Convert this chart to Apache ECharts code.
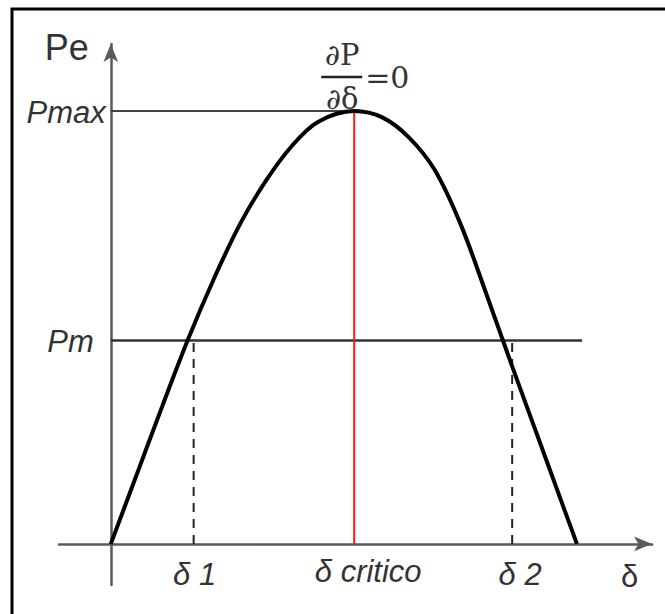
<!DOCTYPE html>
<html>
<head>
<meta charset="utf-8">
<script src="https://cdn.jsdelivr.net/npm/echarts@6/dist/echarts.min.js"></script>
<style>
  html, body { margin: 0; padding: 0; background: #fff; }
  #chart { width: 665px; height: 614px; }
</style>
</head>
<body>
<div id="chart"></div>
<script>
// Power-angle curve Pe(δ): δ in electrical degrees, Pe in per unit of Pmax
const deltaDeg = [0, 10, 20, 30, 40, 50, 60, 70, 80, 94, 105, 115, 125, 135, 145, 155, 165, 172, 180];
const pePu     = [0, 0.16, 0.32, 0.475, 0.615, 0.74, 0.84, 0.92, 0.975, 1, 0.985, 0.94, 0.865, 0.74, 0.578, 0.41, 0.246, 0.131, 0];

const pMax = 1;          // peak of the curve
const pM = 0.47;         // mechanical input power
const delta1 = 32;       // stable operating angle
const deltaCrit = 94;    // angle where dP/dδ = 0
const delta2 = 155;      // unstable operating angle
const pmLineEnd = 182;   // where the Pm line stops

const xTickLabels = ['δ 1', 'δ critico', 'δ 2'];
const yTickLabels = ['Pm', 'Pmax'];
const axisNames = ['δ', 'Pe'];

const chart = echarts.init(document.getElementById('chart'), null, { renderer: 'svg' });

const ink = '#333';
const axisColor = '#5a5a5a';

function segment(points, color, width, type) {
  return {
    type: 'line',
    data: points,
    symbol: 'none',
    silent: true,
    animation: false,
    lineStyle: { color: color, width: width, type: type || 'solid' },
    z: 3
  };
}

chart.setOption({
  animation: false,
  grid: { left: 59, right: 13, top: 44, bottom: 29 },
  xAxis: {
    type: 'value',
    min: -20, max: 209,
    axisLine: {
      onZero: true,
      symbol: ['none', 'arrow'],
      symbolSize: [11, 18],
      lineStyle: { color: axisColor, width: 2.5 }
    },
    axisTick: { show: false },
    axisLabel: { show: false },
    splitLine: { show: false }
  },
  yAxis: {
    type: 'value',
    min: -0.095, max: 1.155,
    axisLine: {
      onZero: true,
      symbol: ['none', 'arrow'],
      symbolSize: [11, 18],
      lineStyle: { color: axisColor, width: 2.5 }
    },
    axisTick: { show: false },
    axisLabel: { show: false },
    splitLine: { show: false }
  },
  series: [
    segment([[0, pMax], [deltaCrit, pMax]], '#444', 2),
    segment([[0, pM], [pmLineEnd, pM]], '#333', 2.5),
    segment([[delta1, 0], [delta1, pM]], '#222', 2, [9, 7]),
    segment([[delta2, 0], [delta2, pM]], '#222', 2, [9, 7]),
    segment([[deltaCrit, 0], [deltaCrit, pMax]], '#ff1a1a', 2),
    {
      type: 'line',
      data: deltaDeg.map((d, i) => [d, pePu[i]]),
      smooth: 0.35,
      symbol: 'none',
      lineStyle: { color: '#000', width: 4 },
      z: 5
    }
  ]
});

// text placed from the axis scales
const px = v => chart.convertToPixel({ gridIndex: 0 }, v);
const origin = px([0, 0]);
const peak = px([deltaCrit, pMax]);
const pmPt = px([0, pM]);
const d1 = px([delta1, 0]);
const dc = px([deltaCrit, 0]);
const d2 = px([delta2, 0]);
const xEnd = px([200, 0]);
const yTop = px([0, 1.155]);

const labelFont = '"Liberation Sans", Arial, sans-serif';
function txt(x, y, s, opts) {
  return {
    type: 'text', x: x, y: y, silent: true,
    style: Object.assign({
      text: s, fill: ink, font: 'italic 31px ' + labelFont,
      align: 'center', verticalAlign: 'middle'
    }, opts || {})
  };
}

const mathFont = '"DejaVu Serif", serif';

chart.setOption({
  graphic: [
    { type: 'rect', silent: true, shape: { x: 12, y: 9, width: 720, height: 700 },
      style: { fill: 'none', stroke: '#000', lineWidth: 3 } },
    txt(yTop[0] - 44, yTop[1] + 3, axisNames[1], { font: '36px ' + labelFont }),
    txt(origin[0] - 5, peak[1] + 1, yTickLabels[1], { align: 'right' }),
    txt(origin[0] - 17, pmPt[1] + 1, yTickLabels[0], { align: 'right' }),
    txt(d1[0] + 1, origin[1] + 31, xTickLabels[0]),
    txt(dc[0] + 14, origin[1] + 28, xTickLabels[1]),
    txt(d2[0] + 8, origin[1] + 31, xTickLabels[2]),
    txt(xEnd[0] + 1, origin[1] + 33, axisNames[0], { font: '31px ' + labelFont }),
    // dP/dδ = 0 above the peak
    txt(peak[0] - 12, peak[1] - 56, '∂P', { font: '29px ' + mathFont }),
    { type: 'line', silent: true,
      shape: { x1: peak[0] - 33, y1: peak[1] - 34, x2: peak[0] + 8, y2: peak[1] - 34 },
      style: { stroke: '#222', lineWidth: 2.5 } },
    txt(peak[0] - 12, peak[1] - 12, '∂δ', { font: '29px ' + mathFont }),
    txt(peak[0] + 11, peak[1] - 34, '=0', { font: '30px ' + mathFont, align: 'left' })
  ]
});
</script>
</body>
</html>
